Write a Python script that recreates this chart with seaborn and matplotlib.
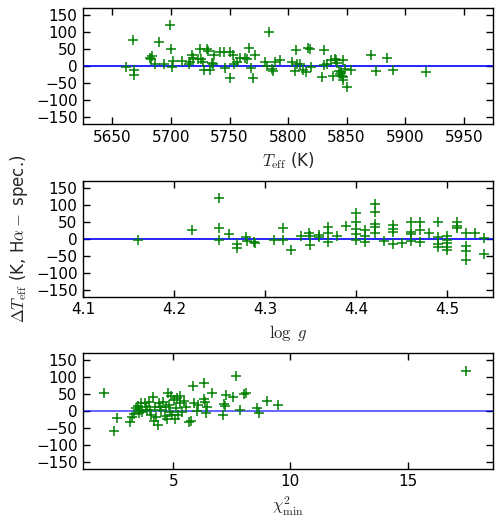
#!/usr/bin/env python3

import matplotlib
matplotlib.use("Agg")
import matplotlib.pyplot as plt
import seaborn as sns

# Teff panel
teff = [
    5661.4, 5668.6, 5668.6, 5667.7, 5682, 5683.4, 5683, 5686, 5690, 5694,
    5698.9, 5700, 5701.4, 5700.6, 5709.7, 5715, 5716, 5717.7, 5719, 5723,
    5725, 5726, 5727, 5728, 5731, 5732, 5733, 5735, 5736, 5737,
    5742, 5745, 5746, 5750, 5750.6, 5753, 5754, 5756, 5759, 5763,
    5765, 5767, 5768, 5769.7, 5771.7, 5780.6, 5782, 5784, 5786, 5787,
    5789, 5793, 5803, 5805.7, 5807, 5808, 5810, 5813, 5815, 5817,
    5819, 5820, 5828.6, 5830.6, 5831, 5833, 5837, 5840, 5841, 5842,
    5838.6, 5843.7, 5845, 5846.6, 5844, 5845.7, 5847, 5846.6, 5848.6, 5850,
    5853.7, 5870.6, 5875, 5884.9, 5890, 5918,
]
dteff_teff = [
    -3, -11, -26, 78, 25, 30, 22, 7, 71, 7,
    120, 50, 14, -3, 14, 7, 12, 32, 24, 22,
    51, 20, 12, -11, 51, 44, -11, 9, 7, 32,
    42, 40, -6, -35, 40, 32, 7, 12, 24, 24,
    20, 53, -6, -36, 34, 12, 0, 101, -8, -13,
    12, 17, 12, -13, 47, 7, 7, -11, -16, 53,
    50, -3, -33, 47, 2, 7, 17, 22, 17, 10,
    -28, -13, -18, 17, -23, -28, -33, -41, -8, -62,
    -10, 32, -15, 25, -11, -16,
]

# log g panel
logg = [
    4.16, 4.22, 4.249, 4.249, 4.249, 4.26, 4.269, 4.269, 4.279, 4.28,
    4.288, 4.289, 4.309, 4.319, 4.319, 4.328, 4.339, 4.348, 4.349, 4.349,
    4.359, 4.359, 4.369, 4.369, 4.369, 4.379, 4.389, 4.4, 4.4, 4.4,
    4.4, 4.4, 4.41, 4.41, 4.41, 4.42, 4.42, 4.42, 4.42, 4.42,
    4.43, 4.44, 4.44, 4.44, 4.44, 4.45, 4.46, 4.46, 4.46, 4.46,
    4.47, 4.47, 4.47, 4.48, 4.49, 4.49, 4.49, 4.49, 4.5, 4.5,
    4.5, 4.5, 4.5, 4.51, 4.51, 4.51, 4.52, 4.52, 4.52, 4.52,
    4.53, 4.54, 4.54,
]
dteff_logg = [
    -4, 26, 120, 31, -2, 14, -14, -26, 4, -6,
    -9, -12, -4, 31, -4, -32, 8, 18, 8, -17,
    11, 6, 36, 16, -9, 8, 39, 75, 48, 28,
    14, -2, 26, 8, -9, 103, 78, 43, 36, 18,
    -6, 41, 28, 21, -14, -12, 50, 21, 14, -6,
    50, 26, -9, 18, 50, 4, -14, -24, 8, -4,
    -12, -24, -34, 48, 38, 31, 16, -22, -36, -61,
    18, 1, -44,
]

# chi2 panel
chi2 = [
    2.03, 2.6, 2.46, 3.13, 3.24, 3.34, 3.41, 3.49, 3.53, 3.59,
    3.63, 3.67, 3.77, 3.84, 3.87, 3.96, 3.99, 4.13, 4.06, 4.16,
    4.2, 4.27, 4.34, 4.39, 4.44, 4.49, 4.56, 4.63, 4.7, 4.73,
    4.77, 4.81, 4.87, 4.91, 4.96, 5.01, 5.06, 5.1, 5.16, 5.2,
    5.27, 5.3, 5.39, 5.44, 5.56, 5.67, 5.77, 5.84, 5.87, 5.99,
    6.06, 6.3, 6.3, 6.34, 6.39, 6.44, 6.67, 7.13, 7.16, 7.2,
    7.24, 7.53, 7.67, 7.84, 8.01, 8.1, 8.56, 8.67, 9.01, 9.46,
    17.5,
]
dteff_chi2 = [
    53, -20, -60, -34, -18, -10, 7, 14, -6, 2,
    22, -3, 24, 12, 2, 26, 2, 39, -13, -30,
    12, -18, -42, 24, 12, 2, 26, -16, 12, -25,
    51, 17, -3, 43, -13, 31, -25, 7, 36, -13,
    43, 22, -3, 29, 12, -32, -30, 73, 22, 0,
    17, 80, 33, 26, -8, 12, 51, -13, 19, 14,
    46, 41, 102, 2, 48, 51, 7, -8, 29, 17,
    117,
]

panels = [
    (teff, dteff_teff, r"$T_{\rm eff}$ (K)", (5625, 5975), [5650, 5700, 5750, 5800, 5850, 5900, 5950], 1.0),
    (logg, dteff_logg, r"$\log\ g$", (4.1, 4.55), [4.1, 4.2, 4.3, 4.4, 4.5], 1.0),
    (chi2, dteff_chi2, r"$\chi^2_{\rm min}$", (1.15, 18.65), [5, 10, 15], 0.7),
]
axes_rects = [
    [0.166, 0.764, 0.818, 0.2205],
    [0.166, 0.4357, 0.818, 0.2205],
    [0.166, 0.1089, 0.818, 0.2205],
]


def main():
    sns.set_style("ticks")
    plt.rcParams["font.family"] = ["DejaVu Sans"]
    plt.rcParams["mathtext.fontset"] = "cm"
    plt.rcParams["axes.unicode_minus"] = True

    fig = plt.figure(figsize=(5.01, 5.26), dpi=100)
    fig.patch.set_facecolor("white")

    for i, ((x, y, xlabel, xlim, xticks, lalpha), rect) in enumerate(zip(panels, axes_rects)):
        ax = fig.add_axes(rect)
        ax.axhline(0, color="b", linewidth=1.2, alpha=lalpha, zorder=1)
        sns.scatterplot(x=x, y=y, marker="+", color="g", s=55,
                        linewidth=1.1, ax=ax, zorder=2)
        ax.set_xlim(*xlim)
        ax.set_ylim(-170, 170)
        ax.set_xticks(xticks)
        ax.set_yticks([-150, -100, -50, 0, 50, 100, 150])
        ax.set_xlabel(xlabel, fontsize=12)
        ax.tick_params(direction="in", top=True, right=True, length=5,
                       width=1, labelsize=11, pad=4, colors="black")
        for s in ax.spines.values():
            s.set_linewidth(1)
            s.set_color("black")
        if i == 1:
            ax.set_ylabel(r"$\Delta T_{\rm eff}$ (K, H$\alpha-$ spec.)", fontsize=12)

    fig.savefig("out.png", dpi=100)
    plt.close(fig)


if __name__ == "__main__":
    main()
